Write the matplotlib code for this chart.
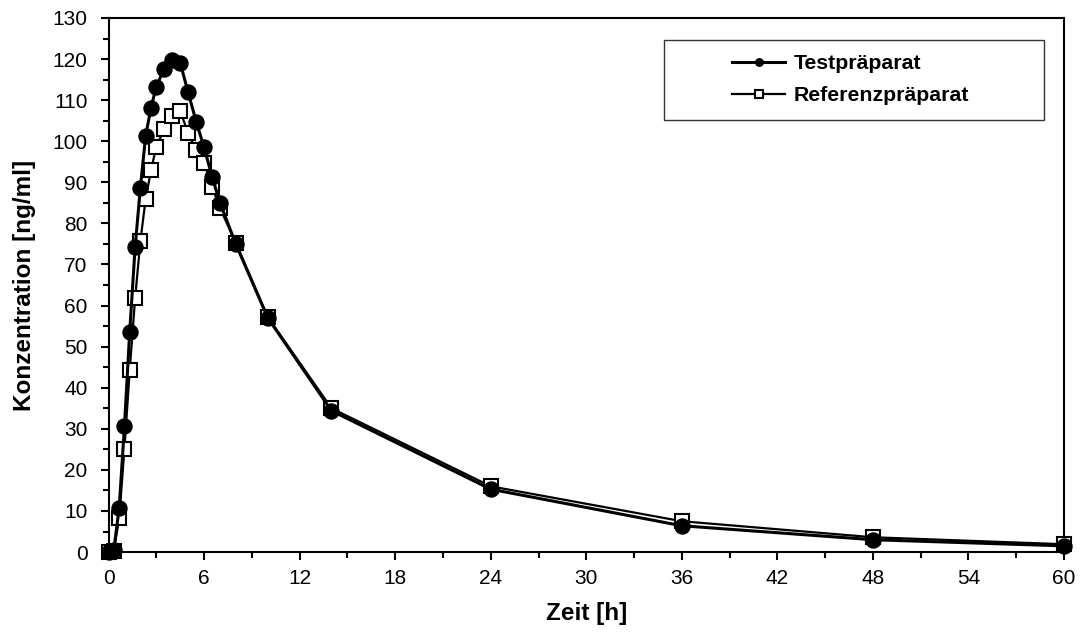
import matplotlib
matplotlib.use("Agg")
from matplotlib import pyplot as plt
from matplotlib.patches import Rectangle
from matplotlib.ticker import MultipleLocator

plt.rcParams['font.family'] = ['Liberation Sans', 'DejaVu Sans']

# Sampling times [h]
zeit = [0, 0.33, 0.67, 1, 1.33, 1.67, 2, 2.33, 2.67, 3, 3.5, 4, 4.5, 5,
        5.5, 6, 6.5, 7, 8, 10, 14, 24, 36, 48, 60]

# Mean concentrations [ng/ml]
test = [0, 0.5, 10.8, 30.7, 53.6, 74.2, 88.7, 101.3, 108.2, 113.3, 117.7,
        119.8, 119.1, 111.9, 104.8, 98.5, 91.4, 85.0, 74.9, 57.0, 34.4,
        15.3, 6.4, 3.0, 1.5]
referenz = [0, 0.3, 8.2, 25.2, 44.3, 61.8, 75.7, 85.9, 93.0, 98.7, 102.9,
            106.1, 107.4, 101.9, 97.9, 94.8, 88.9, 83.7, 75.2, 57.2, 35.0,
            16.0, 7.5, 3.6, 1.9]

fig = plt.figure(figsize=(10.81, 6.36), dpi=100)
ax = fig.add_axes([0.1004, 0.132, 0.8839, 0.8397])

# Reference first, test on top
ax.plot(zeit, referenz, color='black', lw=1.6, marker='s', ms=10.5,
        mfc='white', mec='black', mew=1.5, clip_on=False, zorder=3,
        label='Referenzpräparat')
ax.plot(zeit, test, color='black', lw=2.2, marker='o', ms=10.8,
        mfc='black', mec='black', clip_on=False, zorder=4,
        label='Testpräparat')

ax.set_xlim(0, 60)
ax.set_ylim(0, 130)
ax.xaxis.set_major_locator(MultipleLocator(6))
ax.xaxis.set_minor_locator(MultipleLocator(3))
ax.yaxis.set_major_locator(MultipleLocator(10))
ax.yaxis.set_minor_locator(MultipleLocator(5))
ax.tick_params(which='both', direction='out', width=1.5, labelsize=15,
               top=False, right=False)
ax.tick_params(which='major', length=6)
ax.tick_params(axis='y', which='major', pad=9)
ax.tick_params(axis='x', which='major', pad=6)
ax.tick_params(which='minor', length=4)
for sp in ax.spines.values():
    sp.set_linewidth(1.5)

ax.set_xlabel("Zeit [h]", fontsize=17.5, fontweight='bold', labelpad=10)
ax.set_ylabel("Konzentration [ng/ml]", fontsize=17.5, fontweight='bold',
              labelpad=12)

# Legend box (wide frame, entries sit to the right)
ax.add_patch(Rectangle((0.5816, 0.8096), 0.3978, 0.1498,
                       transform=ax.transAxes, fill=False, edgecolor='#333333',
                       lw=1.0, zorder=5, clip_on=False))
handles, labels = ax.get_legend_handles_labels()
ax.legend(handles[::-1], labels[::-1], frameon=False, loc='upper left',
          bbox_to_anchor=(0.637, 0.96), prop={'weight': 'bold', 'size': 15.3},
          markerscale=0.5, handlelength=2.5, handletextpad=0.4,
          labelspacing=0.6, borderpad=0.2)

fig.savefig("out.png", dpi=100)
